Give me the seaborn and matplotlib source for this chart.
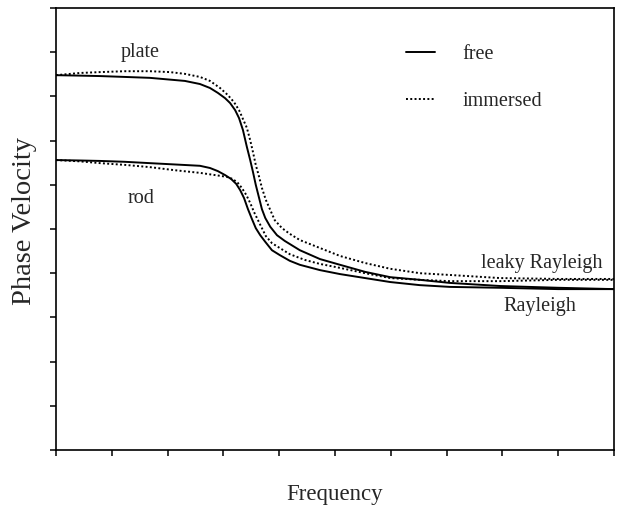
import numpy as np
import pandas as pd
import matplotlib
matplotlib.use("Agg")
import matplotlib.pyplot as plt
import seaborn as sns

# ---- data (arbitrary units 0..10) ----
plate_free_x = [0.00, 0.43, 0.79, 1.24, 1.68, 2.04, 2.31, 2.58, 2.76, 2.90,
                3.03, 3.12, 3.21, 3.28, 3.35, 3.42, 3.48, 3.53, 3.58, 3.64,
                3.69, 3.75, 3.84, 3.96, 4.10, 4.37, 4.73, 5.09, 5.54, 5.99,
                6.52, 7.06, 7.96, 9.00, 10.00]
plate_free_y = [8.48, 8.47, 8.46, 8.44, 8.42, 8.38, 8.35, 8.28, 8.19, 8.08,
                7.96, 7.85, 7.69, 7.51, 7.24, 6.86, 6.56, 6.29, 6.00, 5.70,
                5.45, 5.25, 5.05, 4.86, 4.73, 4.52, 4.32, 4.19, 4.03, 3.91,
                3.85, 3.78, 3.71, 3.67, 3.64]

plate_imm_x = [0.00, 0.43, 0.79, 1.24, 1.68, 2.04, 2.31, 2.58, 2.76, 2.94,
               3.08, 3.19, 3.28, 3.35, 3.42, 3.48, 3.53, 3.58, 3.64, 3.69,
               3.76, 3.84, 3.92, 4.05, 4.19, 4.37, 4.73, 5.09, 5.54, 5.99,
               6.52, 7.06, 7.96, 9.00, 10.00]
plate_imm_y = [8.48, 8.53, 8.55, 8.57, 8.57, 8.55, 8.51, 8.44, 8.35, 8.19,
               8.03, 7.87, 7.69, 7.49, 7.29, 7.01, 6.74, 6.45, 6.18, 5.93,
               5.66, 5.43, 5.20, 5.02, 4.89, 4.75, 4.57, 4.39, 4.23, 4.10,
               4.00, 3.96, 3.89, 3.87, 3.87]

rod_free_x = [0.00, 0.43, 0.79, 1.24, 1.68, 2.13, 2.58, 2.76, 2.90, 3.03,
              3.14, 3.23, 3.30, 3.37, 3.44, 3.51, 3.58, 3.66, 3.75, 3.87,
              4.01, 4.19, 4.37, 4.73, 5.09, 5.54, 5.99, 6.52, 7.06, 7.96,
              9.00, 10.00]
rod_free_y = [6.56, 6.55, 6.54, 6.52, 6.49, 6.46, 6.43, 6.38, 6.31, 6.22,
              6.13, 6.02, 5.88, 5.70, 5.45, 5.23, 5.02, 4.86, 4.71, 4.52,
              4.41, 4.28, 4.19, 4.07, 3.98, 3.89, 3.80, 3.73, 3.69, 3.67,
              3.64, 3.64]

rod_imm_x = [0.00, 0.43, 0.79, 1.24, 1.68, 2.13, 2.58, 2.85, 3.06, 3.17,
             3.26, 3.33, 3.41, 3.48, 3.55, 3.62, 3.69, 3.76, 3.87, 4.01,
             4.19, 4.46, 4.73, 5.09, 5.54, 5.99, 6.52, 7.06, 7.96, 9.00,
             10.00]
rod_imm_y = [6.56, 6.53, 6.49, 6.45, 6.40, 6.33, 6.27, 6.22, 6.18, 6.13,
             6.04, 5.93, 5.77, 5.59, 5.38, 5.20, 5.02, 4.84, 4.68, 4.57,
             4.43, 4.30, 4.21, 4.12, 4.00, 3.89, 3.85, 3.82, 3.82, 3.85,
             3.85]

xticks = list(range(0, 11))
yticks = list(range(0, 11))

# ---- style ----
sns.set_style("ticks")
plt.rcParams["font.family"] = ["Liberation Serif", "DejaVu Serif"]

fig = plt.figure(figsize=(6.18, 5.08), dpi=100)
ax = fig.add_axes([56 / 618, 1 - 450 / 508, 558 / 618, 442 / 508])

solid_kw = dict(color="black", linewidth=1.4, linestyle="-")
dot_kw = dict(color="black", linewidth=1.4, linestyle=(0, (1, 1.2)))

sns.lineplot(x=plate_free_x, y=plate_free_y, ax=ax, sort=False, estimator=None,
             label="free", **solid_kw)
sns.lineplot(x=plate_imm_x, y=plate_imm_y, ax=ax, sort=False, estimator=None,
             label="immersed", **dot_kw)
sns.lineplot(x=rod_free_x, y=rod_free_y, ax=ax, sort=False, estimator=None, **solid_kw)
sns.lineplot(x=rod_imm_x, y=rod_imm_y, ax=ax, sort=False, estimator=None, **dot_kw)

ax.set_xlim(0, 10)
ax.set_ylim(0, 10)
ax.set_xticks(xticks)
ax.set_yticks(yticks)
ax.set_xticklabels([])
ax.set_yticklabels([])
ax.tick_params(direction="out", length=4.5, width=1.1, color="black")
for s in ax.spines.values():
    s.set_visible(True)
    s.set_linewidth(1.2)
    s.set_color("black")

# annotations
tfs = 14.5
ax.text(1.505, 9.00, "plate", ha="center", va="center", fontsize=tfs)
ax.text(1.52, 5.70, "rod", ha="center", va="center", fontsize=tfs)
ax.text(9.785, 4.23, "leaky Rayleigh", ha="right", va="center", fontsize=tfs)
ax.text(8.67, 3.24, "Rayleigh", ha="center", va="center", fontsize=tfs)

leg = ax.legend(loc="upper left", bbox_to_anchor=(0.627, 0.917), frameon=False,
                fontsize=tfs, handlelength=1.45, handletextpad=1.35,
                labelspacing=1.38, borderpad=0, borderaxespad=0)

ax.set_xlabel("Frequency", fontsize=16.5)
ax.set_ylabel("Phase Velocity", fontsize=20.5)
ax.xaxis.label.set_va("center")
ax.yaxis.label.set_va("center")
ax.xaxis.set_label_coords(0.5, -0.100)
ax.yaxis.set_label_coords(-0.057, 0.518)

fig.savefig("out.png", dpi=100)
